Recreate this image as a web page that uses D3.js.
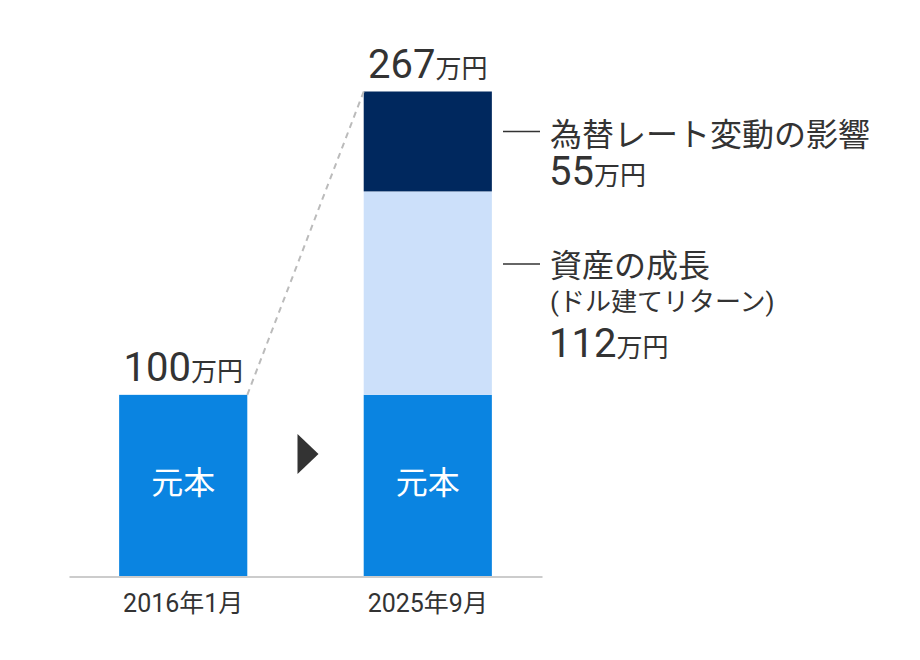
<!DOCTYPE html>
<html>
<head>
<meta charset="utf-8">
<script src="https://cdn.jsdelivr.net/npm/d3@7"></script>
<style>
  body { margin: 0; background: #fff; }
  svg text { font-family: Roboto, "Noto Sans CJK JP", sans-serif; fill: #333; }
</style>
</head>
<body>
<svg class="chart"></svg>
<script>
// categories and stacked series (万円)
var categories = ["2016年1月", "2025年9月"];
var principal = [100, 100];
var growth = [0, 112];
var fxEffect = [0, 55];
var totals = [100, 267];
var seriesKeys = ["principal", "growth", "fx"];
var seriesColors = ["#0a84e1", "#cce0fa", "#00285e"];
var barLabel = "元本";
var unit = "万円";

var width = 920, height = 660;

var svg = d3.select(".chart")
    .attr("width", width)
    .attr("height", height);

var rows = categories.map(function (c, i) {
    return { cat: c, principal: principal[i], growth: growth[i], fx: fxEffect[i] };
});

var stack = d3.stack().keys(seriesKeys);
var layers = stack(rows);

var x = d3.scaleBand()
    .domain(categories)
    .range([69, 542])
    .paddingInner(0.476)
    .paddingOuter(0.205);

var y = d3.scaleLinear()
    .domain([0, d3.max(totals)])
    .range([576.5, 91.5]);

var color = d3.scaleOrdinal().domain(seriesKeys).range(seriesColors);

// bars
svg.selectAll(".layer").data(layers).enter()
    .append("g")
    .attr("class", "layer")
    .attr("fill", function (d) { return color(d.key); })
    .selectAll("rect")
    .data(function (d) { return d; })
    .enter()
    .filter(function (d) { return d[1] > d[0]; })
    .append("rect")
    .attr("x", function (d) { return x(d.data.cat); })
    .attr("width", x.bandwidth())
    .attr("y", function (d) { return y(d[1]); })
    .attr("height", function (d) { return y(d[0]) - y(d[1]); });

// x axis
var axis = svg.append("g")
    .attr("transform", "translate(0," + y(0) + ")")
    .call(d3.axisBottom(x).tickSize(0).tickSizeOuter(0).tickPadding(18));
axis.select(".domain").attr("stroke", "#cccccc").attr("stroke-width", 2);
axis.selectAll(".tick text")
    .attr("font-size", 25)
    .style("font-family", 'Roboto, "Noto Sans CJK JP", sans-serif')
    .attr("fill", "#333");

// dashed connector from first bar top to second bar top
svg.append("line")
    .attr("x1", x(categories[0]) + x.bandwidth())
    .attr("y1", y(totals[0]))
    .attr("x2", x(categories[1]))
    .attr("y2", y(totals[1]))
    .attr("stroke", "#bbbbbb")
    .attr("stroke-width", 2)
    .attr("stroke-dasharray", "6,5");

// total labels
var totalText = svg.selectAll(".total").data(categories).enter()
    .append("text")
    .attr("class", "total")
    .attr("text-anchor", "middle")
    .attr("x", function (d) { return x(d) + x.bandwidth() / 2; })
    .attr("y", function (d, i) { return y(totals[i]) - 14; });
totalText.append("tspan").attr("font-size", 40).text(function (d, i) { return totals[i]; });
totalText.append("tspan").attr("font-size", 26).text(unit);

// 元本 inside bars
svg.selectAll(".inner").data(categories).enter()
    .append("text")
    .attr("text-anchor", "middle")
    .attr("dominant-baseline", "central")
    .attr("x", function (d) { return x(d) + x.bandwidth() / 2; })
    .attr("y", 483)
    .attr("font-size", 32)
    .style("fill", "#fff")
    .text(barLabel);

// arrow between bars
var gx = (x(categories[0]) + x.bandwidth() + x(categories[1])) / 2;
svg.append("path")
    .attr("d", "M" + (gx - 8) + ",434L" + (gx + 13) + ",454L" + (gx - 8) + ",474Z")
    .attr("fill", "#333");

// annotations
var ann = svg.append("g");
function dash(yy) {
    ann.append("line")
        .attr("x1", 503).attr("x2", 540)
        .attr("y1", yy).attr("y2", yy)
        .attr("stroke", "#333").attr("stroke-width", 1.5);
}
dash(131.5);
ann.append("text").attr("x", 550).attr("y", 146).attr("font-size", 32).text("為替レート変動の影響");
var v1 = ann.append("text").attr("x", 549).attr("y", 185);
v1.append("tspan").attr("font-size", 40).text(fxEffect[1]);
v1.append("tspan").attr("font-size", 26).text(unit);

dash(264);
ann.append("text").attr("x", 550).attr("y", 277).attr("font-size", 32).text("資産の成長");
ann.append("text").attr("x", 550).attr("y", 311).attr("font-size", 26).text("(ドル建てリターン)");
var v2 = ann.append("text").attr("x", 549).attr("y", 357);
v2.append("tspan").attr("font-size", 40).text(growth[1]);
v2.append("tspan").attr("font-size", 26).text(unit);
</script>
</body>
</html>
